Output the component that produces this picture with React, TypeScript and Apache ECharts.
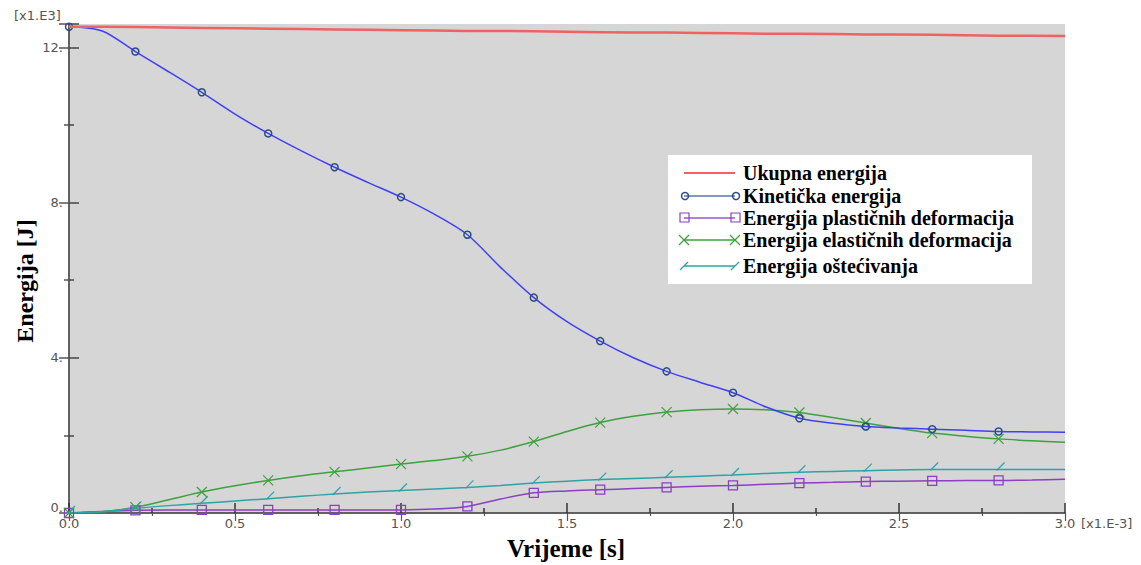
import React, { useEffect, useRef } from 'react';
import * as echarts from 'echarts';

const time = [0, 0.1, 0.2, 0.3, 0.4, 0.5, 0.6, 0.7, 0.8, 0.9, 1.0, 1.1, 1.2, 1.3, 1.4, 1.5, 1.6, 1.7, 1.8, 1.9, 2.0, 2.1, 2.2, 2.3, 2.4, 2.5, 2.6, 2.7, 2.8, 2.9, 3.0];
const ukupna = [12.53, 12.53, 12.52, 12.51, 12.5, 12.49, 12.48, 12.47, 12.46, 12.45, 12.44, 12.43, 12.42, 12.42, 12.41, 12.4, 12.39, 12.38, 12.38, 12.37, 12.36, 12.35, 12.35, 12.34, 12.33, 12.33, 12.32, 12.31, 12.3, 12.3, 12.29];
const kineticka = [12.53, 12.42, 11.89, 11.37, 10.84, 10.28, 9.78, 9.33, 8.91, 8.52, 8.14, 7.7, 7.17, 6.33, 5.55, 4.93, 4.43, 4.0, 3.65, 3.37, 3.1, 2.73, 2.44, 2.31, 2.23, 2.19, 2.16, 2.13, 2.1, 2.09, 2.08];
const plasticna = [0, 0.04, 0.07, 0.08, 0.08, 0.08, 0.08, 0.08, 0.08, 0.08, 0.08, 0.1, 0.17, 0.36, 0.52, 0.57, 0.6, 0.63, 0.66, 0.69, 0.71, 0.74, 0.77, 0.79, 0.81, 0.82, 0.83, 0.84, 0.84, 0.85, 0.87];
const elasticna = [0, 0.03, 0.15, 0.34, 0.54, 0.7, 0.84, 0.96, 1.06, 1.16, 1.26, 1.35, 1.46, 1.62, 1.84, 2.1, 2.33, 2.49, 2.6, 2.66, 2.68, 2.66, 2.59, 2.46, 2.32, 2.18, 2.06, 1.98, 1.91, 1.86, 1.82];
const ostecivanje = [0, 0.03, 0.12, 0.19, 0.25, 0.31, 0.37, 0.43, 0.49, 0.54, 0.58, 0.62, 0.66, 0.71, 0.77, 0.82, 0.86, 0.89, 0.92, 0.95, 0.98, 1.02, 1.05, 1.07, 1.09, 1.11, 1.12, 1.12, 1.12, 1.12, 1.12];
const seriesNames = ['Ukupna energija', 'Kinetička energija', 'Energija plastičnih deformacija', 'Energija elastičnih deformacija', 'Energija oštećivanja'];
const xAxisTitle = 'Vrijeme [s]';
const yAxisTitle = 'Energija [J]';
const xUnit = '[x1.E-3]';
const yUnit = '[x1.E3]';
const yZeroLabel = '0.';

const RED = '#f06262';
const BLUE = '#4040f2';
const BLUE_MK = '#2c4c86';
const PURPLE = '#8c3ec4';
const GREEN = '#3ea03e';
const CYAN = '#2ea3a6';

const X_PATH = 'path://M0,0L10,10M10,0L0,10';
const SLASH_PATH = 'path://M0,10L10,0';

function makeData(vals: number[]) {
  return vals.map((v, i) => {
    const item: any = { value: [time[i], v] };
    if (i % 2 === 1 || i === vals.length - 1) item.symbol = 'none';
    return item;
  });
}

const App: React.FC = () => {
  const ref = useRef<HTMLDivElement>(null);
  useEffect(() => {
    if (!ref.current) return;
    const chart = echarts.init(ref.current, undefined, { renderer: 'svg' });
    const axisCommon = {
      type: 'value' as const,
      splitLine: { show: false },
    };
    const gridLeft = 69, gridTop = 24, gridRight = 1065, gridBottom = 513;
    const legendX0 = 684, legendX1 = 735;
    const rowsY = [173, 196, 218, 240, 266];
    const legendChildren: any[] = [
      { type: 'rect', shape: { x: 668, y: 155, width: 364, height: 129 }, style: { fill: '#ffffff' } },
    ];
    const lineColors = [RED, '#5a74a8', '#9a55cc', GREEN, CYAN];
    rowsY.forEach((y, i) => {
      legendChildren.push({
        type: 'line',
        shape: { x1: legendX0, y1: y, x2: legendX1, y2: y },
        style: { stroke: lineColors[i], lineWidth: i === 0 ? 2 : 1.5 },
      });
      [legendX0, legendX1].forEach((mx) => {
        if (i === 1) legendChildren.push({ type: 'circle', shape: { cx: mx + 1, cy: y, r: 3.5 }, style: { fill: 'none', stroke: BLUE_MK, lineWidth: 1.5 } });
        if (i === 2) legendChildren.push({ type: 'rect', shape: { x: mx - 4, y: y - 5, width: 9, height: 9 }, style: { fill: 'none', stroke: PURPLE, lineWidth: 1.2 } });
        if (i === 3) {
          legendChildren.push({ type: 'line', shape: { x1: mx - 5, y1: y - 5, x2: mx + 5, y2: y + 5 }, style: { stroke: GREEN, lineWidth: 1.2 } });
          legendChildren.push({ type: 'line', shape: { x1: mx - 5, y1: y + 5, x2: mx + 5, y2: y - 5 }, style: { stroke: GREEN, lineWidth: 1.2 } });
        }
        if (i === 4) legendChildren.push({ type: 'line', shape: { x1: mx - 4, y1: y + 4, x2: mx + 4, y2: y - 4 }, style: { stroke: CYAN, lineWidth: 1.2 } });
      });
      legendChildren.push({
        type: 'text',
        x: 743,
        y,
        style: { text: seriesNames[i], font: 'bold 20px "Liberation Serif"', fill: '#000', verticalAlign: 'middle', align: 'left' },
      });
    });

    const option: any = {
      animation: false,
      backgroundColor: '#ffffff',
      grid: {
        left: gridLeft,
        top: gridTop,
        width: gridRight - gridLeft,
        height: gridBottom - gridTop,
        show: true,
        backgroundColor: '#d6d6d6',
        borderWidth: 0,
      },
      xAxis: [
        {
          ...axisCommon,
          min: 0,
          max: 3,
          interval: 0.5,
          position: 'bottom',
          axisLine: { show: true, lineStyle: { color: '#222', width: 1.5 } },
          axisTick: { show: true, inside: true, length: 10, lineStyle: { color: '#333', width: 1.5 } },
          minorTick: { show: true, splitNumber: 2, length: 5, lineStyle: { color: '#333', width: 1.5 } },
          axisLabel: {
            color: '#555',
            fontFamily: 'DejaVu Sans',
            fontSize: 13,
            margin: 4,
            formatter: (v: number) => v.toFixed(1),
          },
        },
        {
          ...axisCommon,
          min: 0,
          max: 3,
          interval: 0.5,
          position: 'top',
          axisLine: { show: true, lineStyle: { color: '#666', width: 1.5 } },
          axisTick: { show: true, inside: true, length: 8, lineStyle: { color: '#555', width: 1.2 } },
          minorTick: { show: true, splitNumber: 2, length: 3, lineStyle: { color: '#555', width: 1.2 } },
          axisLabel: { show: false },
        },
      ],
      yAxis: [
        {
          ...axisCommon,
          min: 0,
          max: 12.6,
          interval: 4,
          position: 'left',
          axisLine: { show: true, lineStyle: { color: '#222', width: 1.5 } },
          axisTick: { show: true, inside: true, length: 10, lineStyle: { color: '#444', width: 1.5 } },
          minorTick: { show: true, splitNumber: 2, length: 5, lineStyle: { color: '#444', width: 1.5 } },
          axisLabel: {
            color: '#555',
            fontFamily: 'DejaVu Sans',
            fontSize: 13,
            margin: 6,
            showMaxLabel: false,
            showMinLabel: false,
            formatter: (v: number) => (v % 4 === 0 && v > 0 ? `${v}.` : ''),
          },
        },
        {
          ...axisCommon,
          min: 0,
          max: 12.6,
          interval: 4,
          position: 'right',
          axisLine: { show: true, lineStyle: { color: '#666', width: 1.5 } },
          axisTick: { show: true, inside: true, length: 10, lineStyle: { color: '#555', width: 1.5 } },
          minorTick: { show: true, splitNumber: 2, length: 5, lineStyle: { color: '#555', width: 1.5 } },
          axisLabel: { show: false },
        },
      ],
      series: [
        {
          name: seriesNames[0],
          type: 'line',
          data: time.map((t, i) => [t, ukupna[i]]),
          showSymbol: false,
          lineStyle: { color: RED, width: 2.5 },
          itemStyle: { color: RED },
          z: 5,
        },
        {
          name: seriesNames[1],
          type: 'line',
          data: makeData(kineticka),
          smooth: 0.3,
          showAllSymbol: true,
          symbol: 'circle',
          symbolSize: 7,
          lineStyle: { color: BLUE, width: 1.5 },
          itemStyle: { color: 'transparent', borderColor: BLUE_MK, borderWidth: 1.5 },
          z: 4,
        },
        {
          name: seriesNames[2],
          type: 'line',
          data: makeData(plasticna),
          smooth: 0.3,
          showAllSymbol: true,
          symbol: 'rect',
          symbolSize: 9,
          lineStyle: { color: PURPLE, width: 1.5 },
          itemStyle: { color: 'transparent', borderColor: PURPLE, borderWidth: 1.3 },
          z: 3,
        },
        {
          name: seriesNames[3],
          type: 'line',
          data: makeData(elasticna),
          smooth: 0.3,
          showAllSymbol: true,
          symbol: X_PATH,
          symbolSize: 10,
          lineStyle: { color: GREEN, width: 1.5 },
          itemStyle: { color: 'transparent', borderColor: GREEN, borderWidth: 1.2 },
          z: 3,
        },
        {
          name: seriesNames[4],
          type: 'line',
          data: makeData(ostecivanje),
          smooth: 0.3,
          showAllSymbol: true,
          symbol: SLASH_PATH,
          symbolSize: 8,
          symbolOffset: [2, -3],
          lineStyle: { color: CYAN, width: 1.5 },
          itemStyle: { color: 'transparent', borderColor: CYAN, borderWidth: 1.2 },
          z: 3,
        },
      ],
      graphic: [
        {
          type: 'text',
          x: 14,
          y: 15,
          style: { text: yUnit, font: '13px "DejaVu Sans"', fill: '#555', verticalAlign: 'middle' },
        },
        {
          type: 'text',
          x: 63,
          y: 507,
          style: { text: yZeroLabel, font: '13px "DejaVu Sans"', fill: '#555', align: 'right', verticalAlign: 'middle' },
        },
        {
          type: 'text',
          x: 1081,
          y: 523,
          style: { text: xUnit, font: '13px "DejaVu Sans"', fill: '#555', verticalAlign: 'middle' },
        },
        {
          type: 'text',
          x: 566,
          y: 548,
          style: { text: xAxisTitle, font: 'bold 25px "Liberation Serif"', fill: '#000', align: 'center', verticalAlign: 'middle' },
        },
        {
          type: 'text',
          x: 25,
          y: 281,
          rotation: Math.PI / 2,
          style: { text: yAxisTitle, font: 'bold 24px "Liberation Serif"', fill: '#000', align: 'center', verticalAlign: 'middle' },
        },
        { type: 'group', children: legendChildren },
      ],
    };
    chart.setOption(option);
    return () => chart.dispose();
  }, []);
  return <div ref={ref} style={{ width: 1141, height: 565, position: 'absolute', left: 0, top: 0 }} />;
};

export default App;
